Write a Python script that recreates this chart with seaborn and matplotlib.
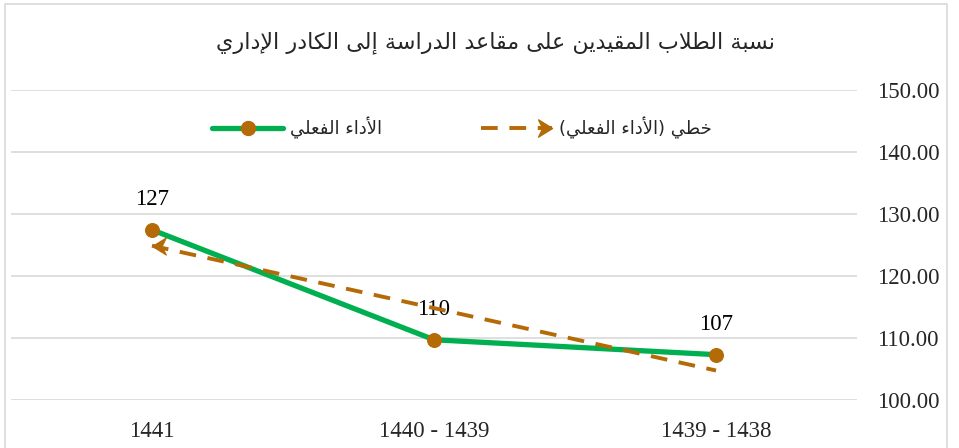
import numpy as np
import pandas as pd
import matplotlib
matplotlib.use("Agg")
import matplotlib.pyplot as plt
import seaborn as sns
from matplotlib.lines import Line2D
from matplotlib.path import Path
from matplotlib.patches import Rectangle
from matplotlib.legend_handler import HandlerLine2D

# ---------------------------- data ----------------------------
years = ["1441", "1440 - 1439", "1439 - 1438"]
actual = [127.4, 109.7, 107.3]
value_labels = ["127", "110", "107"]

title_txt = "نسبة الطلاب المقيدين على مقاعد الدراسة إلى الكادر الإداري"
actual_name = "الأداء الفعلي"
trend_name = "خطي (الأداء الفعلي)"

GREEN = "#00B050"
BROWN = "#B46A06"
GRID = "#D9D9D9"

# ---------------------- minimal arabic shaping ----------------------
# (isolated, final, initial, medial)
FORMS = {
    "ء": (0xFE80, None, None, None),
    "ا": (0xFE8D, 0xFE8E, None, None),
    "أ": (0xFE83, 0xFE84, None, None),
    "إ": (0xFE87, 0xFE88, None, None),
    "ب": (0xFE8F, 0xFE90, 0xFE91, 0xFE92),
    "ة": (0xFE93, 0xFE94, None, None),
    "خ": (0xFEA5, 0xFEA6, 0xFEA7, 0xFEA8),
    "د": (0xFEA9, 0xFEAA, None, None),
    "ر": (0xFEAD, 0xFEAE, None, None),
    "س": (0xFEB1, 0xFEB2, 0xFEB3, 0xFEB4),
    "ط": (0xFEC1, 0xFEC2, 0xFEC3, 0xFEC4),
    "ع": (0xFEC9, 0xFECA, 0xFECB, 0xFECC),
    "ف": (0xFED1, 0xFED2, 0xFED3, 0xFED4),
    "ق": (0xFED5, 0xFED6, 0xFED7, 0xFED8),
    "ك": (0xFED9, 0xFEDA, 0xFEDB, 0xFEDC),
    "ل": (0xFEDD, 0xFEDE, 0xFEDF, 0xFEE0),
    "م": (0xFEE1, 0xFEE2, 0xFEE3, 0xFEE4),
    "ن": (0xFEE5, 0xFEE6, 0xFEE7, 0xFEE8),
    "ى": (0xFEEF, 0xFEF0, None, None),
    "ي": (0xFEF1, 0xFEF2, 0xFEF3, 0xFEF4),
}
LAM_ALEF = {"ا": (0xFEFB, 0xFEFC), "أ": (0xFEF7, 0xFEF8), "إ": (0xFEF9, 0xFEFA)}
MIRROR = {"(": ")", ")": "("}


def dual(c):
    return c in FORMS and FORMS[c][2] is not None


def joins_right(c):
    return c in FORMS and FORMS[c][1] is not None


def shape(text):
    res = []
    i = 0
    while i < len(text):
        c = text[i]
        prev_j = i > 0 and dual(text[i - 1])
        if c == "ل" and i + 1 < len(text) and text[i + 1] in LAM_ALEF:
            iso, fin = LAM_ALEF[text[i + 1]]
            res.append(chr(fin if prev_j else iso))
            i += 2
            continue
        if c in FORMS:
            iso, fin, ini, med = FORMS[c]
            p = prev_j and fin is not None
            n = ini is not None and i + 1 < len(text) and joins_right(text[i + 1])
            if p and n:
                res.append(chr(med))
            elif p:
                res.append(chr(fin))
            elif n:
                res.append(chr(ini))
            else:
                res.append(chr(iso))
        else:
            res.append(c)
        i += 1
    return "".join(MIRROR.get(ch, ch) for ch in reversed(res))


class ArrowEndHandler(HandlerLine2D):
    # put the arrow at the right end of the legend line, not in the middle
    def create_artists(self, *args, **kwargs):
        arts = super().create_artists(*args, **kwargs)
        for a in arts:
            a.set_markevery([2])
        return arts


# ---------------------------- plotting ----------------------------
sns.set_style("white")
plt.rcParams["font.family"] = ["Liberation Serif", "DejaVu Sans"]

df = pd.DataFrame({"year": years, "value": actual})
xpos = np.arange(len(years))
coef = np.polyfit(xpos, actual, 1)
df["trend"] = np.polyval(coef, xpos)

fig = plt.figure(figsize=(9.59, 4.48), dpi=100)
ax = fig.add_axes([11 / 959, 48 / 448, 846 / 959, 310.5 / 448])

codes = [Path.MOVETO, Path.LINETO, Path.LINETO, Path.LINETO, Path.CLOSEPOLY]
arrow_left = Path([(0, 0), (1, 0.62), (0.7, 0), (1, -0.62), (0, 0)], codes)
arrow_right = Path([(0, 0), (-1, 0.62), (-0.7, 0), (-1, -0.62), (0, 0)], codes)

TREND_DASH = (4.3, 3.0)

sns.lineplot(data=df, x="year", y="value", ax=ax, color=GREEN, lw=3.8,
             marker="o", markersize=10, markerfacecolor=BROWN,
             markeredgecolor=BROWN, zorder=3)
sns.lineplot(data=df, x="year", y="trend", ax=ax, color=BROWN, lw=2.8,
             dashes=TREND_DASH, marker=arrow_left, markevery=[0],
             markersize=20, markerfacecolor=BROWN, markeredgecolor=BROWN,
             zorder=4)

for x, v, lab in zip(xpos, actual, value_labels):
    ax.annotate(lab, (x, v), xytext=(0, 22), textcoords="offset points",
                ha="center", va="center", fontsize=16.5, color="black",
                family="Liberation Serif")

ax.set_xlim(-0.5, 2.5)
ax.set_ylim(100, 150)
ax.set_yticks([100, 110, 120, 130, 140, 150])
ax.set_yticklabels([f"{t:.2f}" for t in [100, 110, 120, 130, 140, 150]])
ax.yaxis.tick_right()
ax.tick_params(axis="y", length=0, pad=14.5, labelsize=16.5)
ax.tick_params(axis="x", length=0, pad=15, labelsize=16.5)
ax.grid(axis="y", color=GRID, lw=1.2)
ax.grid(axis="x", visible=False)
for s in ax.spines.values():
    s.set_visible(False)
ax.set_xlabel("")
ax.set_ylabel("")

fig.text(495 / 959, 1 - 43 / 448, shape(title_txt), ha="center", va="center",
         fontsize=16, family="DejaVu Sans")

h_actual = Line2D([], [], color=GREEN, lw=3.8, marker="o", markersize=10,
                  markerfacecolor=BROWN, markeredgecolor=BROWN)
h_trend = Line2D([], [], color=BROWN, lw=2.8, dashes=TREND_DASH,
                 marker=arrow_right, markersize=20, markerfacecolor=BROWN,
                 markeredgecolor=BROWN)
leg = fig.legend([h_actual, h_trend], [shape(actual_name), shape(trend_name)],
                 ncol=2, loc="center", bbox_to_anchor=(462 / 959, 1 - 128 / 448),
                 frameon=False, handlelength=3.9, handletextpad=0.4,
                 columnspacing=5.5, handler_map={h_trend: ArrowEndHandler()},
                 prop={"family": "DejaVu Sans", "size": 13})

fig.patches.append(Rectangle((5 / 959, -0.1), 942 / 959, 1.1 - 4 / 448,
                             transform=fig.transFigure, fill=False,
                             edgecolor=GRID, lw=1.2))

fig.savefig("out.png", dpi=100)
